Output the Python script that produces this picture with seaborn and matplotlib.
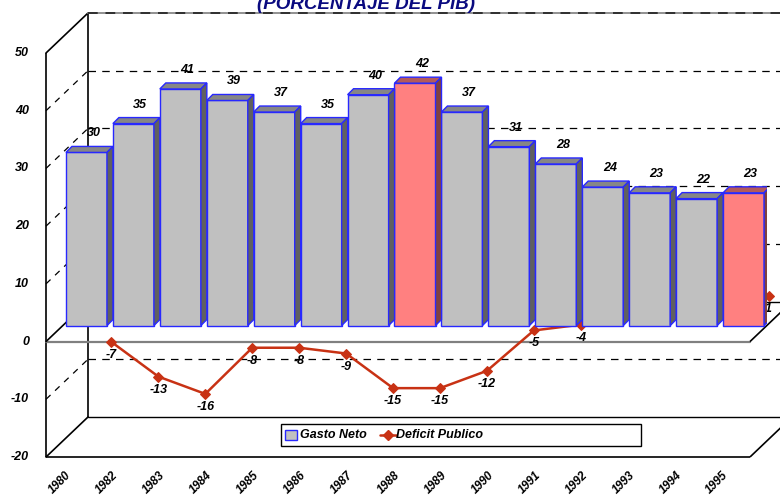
import numpy as np
import pandas as pd
import matplotlib
matplotlib.use("Agg")
import matplotlib.pyplot as plt
import seaborn as sns
from matplotlib.patches import Polygon, Rectangle

# ---- data -----------------------------------------------------------------
years = ["1980", "1982", "1983", "1984", "1985", "1986", "1987", "1988",
         "1989", "1990", "1991", "1992", "1993", "1994", "1995"]
gasto_neto = [30, 35, 41, 39, 37, 35, 40, 42, 37, 31, 28, 24, 23, 22, 23]
deficit_publico = [-7, -13, -16, -8, -8, -9, -15, -15, -12, -5, -4, 1, 1, 0, 1]
highlight_years = ["1988", "1995"]
y_ticks = [50, 40, 30, 20, 10, 0, -10, -20]

title = "(PORCENTAJE DEL PIB)"
series_names = ["Gasto Neto", "Deficit Publico"]

# ---- styling ----------------------------------------------------------------
sns.set_style("white")
plt.rcParams["font.family"] = ["Liberation Sans", "DejaVu Sans"]
FONT = dict(fontsize=9, fontweight="bold", fontstyle="italic", color="black")

BAR_GRAY = "#C0C0C0"
BAR_RED = "#FF8080"
EDGE_BLUE = "#2828FF"
LINE_RED = "#C83214"

W, H = 780, 498
fig = plt.figure(figsize=(W / 100, H / 100), dpi=100)
fig.patch.set_facecolor("white")

# front plane of the 3-D box, in pixels (y measured from the top)
FX0, FX1 = 46, 750
FY_TOP, FY_BOT = 53, 457
YMIN, YMAX = -20, 50
N = len(years)
PPX = (FX1 - FX0) / N
PPY = (FY_BOT - FY_TOP) / (YMAX - YMIN)
BACK = (42, 40)       # shift from the front plane to the back wall
BARS = (17, 16)       # shift of the row holding the bars
FACE = 6              # depth of each bar in pixels


def plane_axes(dx, dy, z):
    return fig.add_axes([(FX0 + dx) / W, (H - FY_BOT + dy) / H,
                         (FX1 - FX0) / W, (FY_BOT - FY_TOP) / H], zorder=z)


def finish(a):
    a.set_xlim(-0.5, N - 0.5)
    a.set_ylim(YMIN, YMAX)
    a.axis("off")
    a.patch.set_visible(False)


def yf(v, dy=0):
    return FY_BOT - (v - YMIN) * PPY - dy


# ---- frame drawn in pixel space -------------------------------------------
frame = fig.add_axes([0, 0, 1, 1], zorder=0)
frame.set_xlim(0, W)
frame.set_ylim(H, 0)
frame.axis("off")
frame.patch.set_visible(False)

bx, by = BACK
k = dict(color="black", lw=1.2, solid_capstyle="butt")
frame.plot([FX0, FX0], [yf(YMAX), yf(YMIN)], **k)
frame.plot([FX0 + bx, FX0 + bx], [yf(YMAX, by), yf(YMIN, by)], **k)
frame.plot([FX0, FX1], [yf(YMIN), yf(YMIN)], **k)
frame.plot([FX1, FX1 + bx], [yf(YMIN), yf(YMIN, by)], **k)
frame.plot([FX0, FX1], [yf(0), yf(0)], color="#808080", lw=1.6)
frame.plot([FX1, FX1 + bx], [yf(0), yf(0, by)], **k)
for v in y_ticks:
    solid = v in (YMAX, YMIN, 0)
    frame.plot([FX0, FX0 + bx], [yf(v), yf(v, by)], color="black",
               lw=1.2 if solid else 0.9,
               ls="-" if solid else (0, (5, 5)))
    frame.text(29, yf(v), str(v), ha="right", va="center", **FONT)

# ---- back row: deficit line -----------------------------------------------
axl = plane_axes(bx, by, 1)
df = pd.DataFrame({"pos": np.arange(N), "year": years,
                   "gasto": gasto_neto, "deficit": deficit_publico})
for v in y_ticks:
    if v == YMAX:
        axl.axhline(v, color="#909090", lw=1.4, zorder=0, clip_on=False)
        axl.axhline(v, color="#303030", lw=1.4, ls=(0, (5, 4)), zorder=0,
                    clip_on=False)
    elif v in (0, YMIN):
        axl.axhline(v, color="black", lw=1.0, zorder=0, clip_on=False)
    else:
        axl.axhline(v, color="black", lw=0.9, ls=(0, (6, 5)), zorder=0,
                    clip_on=False)
sns.lineplot(data=df, x="pos", y="deficit", ax=axl, color=LINE_RED,
             lw=1.8, marker="D", markersize=5.5, markeredgecolor=LINE_RED,
             zorder=3, legend=False)
for p, v in zip(df["pos"], df["deficit"]):
    axl.annotate(f"{v:d}", (p, v), xytext=(0, -13), textcoords="offset pixels",
                 ha="center", va="center", zorder=4, annotation_clip=False,
                 **FONT)
finish(axl)

# ---- bar row: gasto neto ----------------------------------------------------
axb = plane_axes(BARS[0], BARS[1], 2)
palette = {y: (BAR_RED if y in highlight_years else BAR_GRAY) for y in years}
sns.barplot(data=df, x="year", y="gasto", hue="year", palette=palette,
            saturation=1, width=0.874, edgecolor=EDGE_BLUE, linewidth=1.0,
            legend=False, ax=axb, zorder=3)
finish(axb)

ddx, ddy = FACE / PPX, FACE / PPY
for patch in list(axb.patches):
    x0, w, h = patch.get_x(), patch.get_width(), patch.get_height()
    fc = np.array(patch.get_facecolor()[:3])
    top = Polygon([(x0, h), (x0 + w, h), (x0 + w + ddx, h + ddy),
                   (x0 + ddx, h + ddy)], closed=True,
                  facecolor=fc * 0.70, edgecolor=EDGE_BLUE, lw=1.0, zorder=3)
    side = Polygon([(x0 + w, 0), (x0 + w + ddx, ddy), (x0 + w + ddx, h + ddy),
                    (x0 + w, h)], closed=True,
                   facecolor=fc * 0.50, edgecolor=EDGE_BLUE, lw=1.0, zorder=3)
    axb.add_patch(top)
    axb.add_patch(side)
    axb.annotate(f"{h:.0f}", (x0 + w / 2, h), xytext=(7, 19),
                 textcoords="offset pixels", ha="center", va="center",
                 zorder=5, annotation_clip=False, **FONT)

# ---- category labels along the front edge ---------------------------------
axf = plane_axes(0, 0, 0)
finish(axf)
for i, y in enumerate(years):
    axf.annotate(y, (i, YMIN), xytext=(0, -16), textcoords="offset pixels",
                 rotation=45, rotation_mode="anchor", ha="right", va="center",
                 fontsize=8.5, fontweight="bold", fontstyle="italic",
                 color="black", annotation_clip=False)

# ---- legend -------------------------------------------------------------------
frame.add_patch(Rectangle((281, 424), 360, 22, facecolor="white",
                          edgecolor="black", lw=1.0, zorder=5))
frame.add_patch(Rectangle((285, 430), 12, 10, facecolor=BAR_GRAY,
                          edgecolor=EDGE_BLUE, lw=1.0, zorder=6))
frame.text(300, 435, series_names[0], ha="left", va="center", zorder=6, **FONT)
frame.plot([380, 396], [435, 435], color=LINE_RED, lw=1.8, zorder=6)
frame.plot([388], [435], marker="D", markersize=5.5, color=LINE_RED, zorder=7)
frame.text(396, 435, series_names[1], ha="left", va="center", zorder=6, **FONT)

# ---- title ---------------------------------------------------------------------
fig.text(366 / W, 1 - 9 / H, title, ha="center", va="baseline", fontsize=13.5,
         fontweight="bold", fontstyle="italic", color="#0A0A80")

fig.savefig("out.png", dpi=100, facecolor="white")
